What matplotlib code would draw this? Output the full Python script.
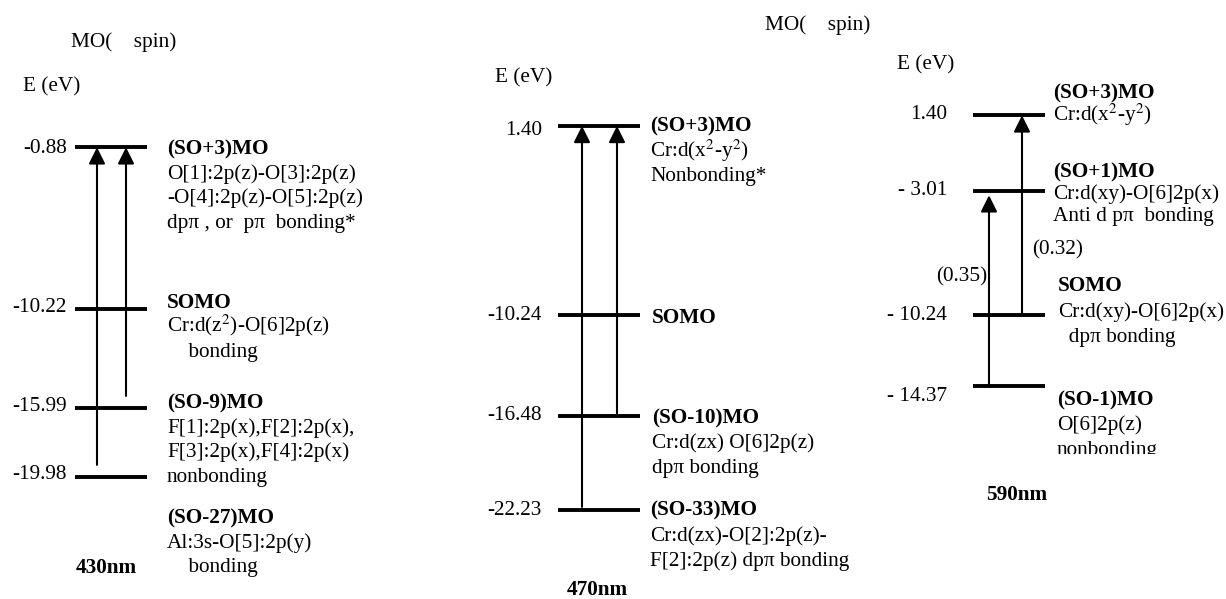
import matplotlib
matplotlib.use('Agg')
import matplotlib.pyplot as plt
from matplotlib.transforms import Bbox

plt.rcParams['font.family'] = ['Liberation Serif', 'DejaVu Serif']
plt.rcParams['mathtext.fontset'] = 'stix'

# 能级 (eV)
levels_430 = [-0.88, -10.22, -15.99, -19.98]
ticks_430 = ['-0.88', '-10.22', '-15.99', '-19.98']
levels_470 = [1.40, -10.24, -16.48, -22.23]
ticks_470 = ['1.40', '-10.24', '-16.48', '-22.23']
levels_590 = [1.40, -3.01, -10.24, -14.37]
ticks_590 = ['1.40', '- 3.01', '- 10.24', '- 14.37']

# 跃迁 (from, to)
trans_430 = [(-19.98, -0.88), (-15.99, -0.88)]
trans_470 = [(-22.23, 1.40), (-16.48, 1.40)]
trans_590 = [(-14.37, -3.01), (-10.24, 1.40)]
weights_590 = ['(0.35)', '(0.32)']

# 轨道说明, 第一行为粗体
orb_430 = [
    ['(SO+3)MO', 'O[1]:2p(z)-O[3]:2p(z)', '-O[4]:2p(z)-O[5]:2p(z)', 'dpπ , or  pπ  bonding*'],
    ['SOMO', 'Cr:d(z$^2$)-O[6]2p(z)', '    bonding'],
    ['(SO-9)MO', 'F[1]:2p(x),F[2]:2p(x),', 'F[3]:2p(x),F[4]:2p(x)', 'nonbonding'],
    ['(SO-27)MO', 'Al:3s-O[5]:2p(y)', '    bonding'],
]
orb_470 = [
    ['(SO+3)MO', 'Cr:d(x$^2$-y$^2$)', 'Nonbonding*'],
    ['SOMO'],
    ['(SO-10)MO', 'Cr:d(zx) O[6]2p(z)', 'dpπ bonding'],
    ['(SO-33)MO', 'Cr:d(zx)-O[2]:2p(z)-', 'F[2]:2p(z) dpπ bonding'],
]
orb_590 = [
    ['(SO+3)MO', 'Cr:d(x$^2$-y$^2$)'],
    ['(SO+1)MO', 'Cr:d(xy)-O[6]2p(x)', 'Anti d pπ  bonding'],
    ['SOMO', 'Cr:d(xy)-O[6]2p(x)', '  dpπ bonding'],
    ['(SO-1)MO', 'O[6]2p(z)', 'nonbonding'],
]
wavelengths = ['430nm', '470nm', '590nm']

W, H = 1226, 599
fs = 15.3
fig = plt.figure(figsize=(W / 100, H / 100), dpi=100)


def ftext(x, y, s, **kw):
    # 以像素位置放置的自由文字
    return fig.text(x / W, 1 - y / H, s, fontsize=fs, va='center', **kw)


def panel(ylim, levels, ticks, trans, orbs, lx, tick_x, tick_dy, text_x, text_dy, spacing,
          arrow_x, shrinkA, shrinkB):
    ax = fig.add_axes([0, 0, 1, 1])
    ax.patch.set_alpha(0)
    ax.set_xlim(0, W)
    ax.set_ylim(*ylim)
    ax.axis('off')
    ax.hlines(levels, lx[0], lx[1], color='black', lw=2.8)
    for e, t, d in zip(levels, ticks, tick_dy):
        ax.annotate(t, xy=(tick_x, e), xytext=(0, -d), textcoords='offset pixels',
                    ha='right', va='center', fontsize=fs)
    for (lo, hi), x, sa, sb in zip(trans, arrow_x, shrinkA, shrinkB):
        ax.annotate('', xy=(x, hi), xytext=(x, lo),
                    arrowprops=dict(arrowstyle='-|>', mutation_scale=25, lw=1.5,
                                    color='black', shrinkA=sa, shrinkB=sb))
    out = []
    for e, lines, x, d0, sp in zip(levels, orbs, text_x, text_dy, spacing):
        for i, s in enumerate(lines):
            t = ax.annotate(s, xy=(x, e), xytext=(0, -(d0 + i * sp + 6)),
                            textcoords='offset pixels', ha='left', va='baseline',
                            fontsize=fs, fontweight='bold' if i == 0 else 'normal')
            out.append(t)
    return ax, out


# 430nm
panel((-27.02, 7.645), levels_430, ticks_430, trans_430, orb_430, (75, 147), 67,
      [1, -1, -2, -3], [167] * 4, [1, -7, -6, 40], [24.5] * 4, [97, 126], [9, 9], [0, 0])
ftext(71, 42, 'MO(    spin)')
ftext(23, 87, 'E (eV)')
ftext(106, 568, wavelengths[0], ha='center', fontweight='bold')

# 470nm
panel((-27.73, 9.153), levels_470, ticks_470, trans_470, orb_470, (558, 640), 542,
      [5, 1, -1, 1], [650, 652, 652, 650], [0, 2, 1, 0], [24.5, 25, 25, 25], [582, 617], [2, 2], [0, 0])
ftext(765, 25, 'MO(    spin)')
ftext(495, 78, 'E (eV)')
ftext(597, 590, wavelengths[1], ha='center', fontweight='bold')

# 590nm
ax3, txt3 = panel((-26.75, 8.114), levels_590, ticks_590, trans_590, orb_590, (973, 1045), 947,
                  [-1, -1, 0, 10], [1053, 1053, 1058, 1057], [-23, -20, -30, 13], [22.5, 22, 25.5, 25],
                  [989, 1022], [0, 0], [3, 0])
ftext(897, 65, 'E (eV)')
ftext(962, 277, weights_590[0], ha='center')
ftext(1058, 250, weights_590[1], ha='center')
ftext(1017, 495, wavelengths[2], ha='center', fontweight='bold')
# 最后一行被截断
txt3[-1].set_clip_on(True)
txt3[-1].set_clip_box(Bbox([[0, H - 454], [W, H]]))

fig.savefig('out.png', dpi=100)
